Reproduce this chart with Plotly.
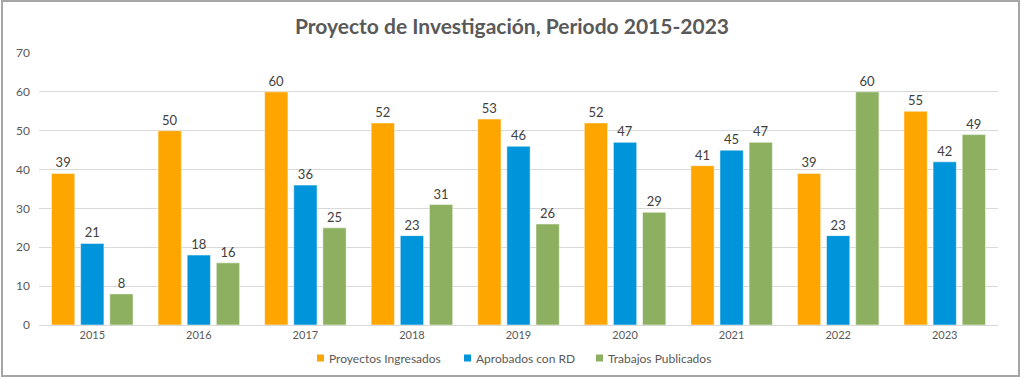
import plotly.graph_objects as go

years = ["2015", "2016", "2017", "2018", "2019", "2020", "2021", "2022", "2023"]
proyectos = [39, 50, 60, 52, 53, 52, 41, 39, 55]
aprobados = [21, 18, 36, 23, 46, 47, 45, 23, 42]
trabajos = [8, 16, 25, 31, 26, 29, 47, 60, 49]

series_names = ["Proyectos Ingresados", "Aprobados con RD", "Trabajos Publicados"]
series_values = [proyectos, aprobados, trabajos]
series_colors = ["#FFA500", "#0095DA", "#8CB05F"]

FONT = "Lato, 'Open Sans', sans-serif"
fig = go.Figure()
for name, vals, col in zip(series_names, series_values, series_colors):
    fig.add_trace(go.Bar(
        x=years, y=vals, name=name,
        marker=dict(color=col, line=dict(color="white", width=0.5)),
        text=vals, textposition="outside", cliponaxis=False,
        textfont=dict(size=13, color="#404040", family=FONT),
    ))

W, H = 1024, 379
L, R, T, B = 39, 26, 53, 54
pw, ph = W - L - R, H - T - B


def px_x(p):
    return (p - L) / pw


def px_y(p):
    return (T + ph - p) / ph


shapes = [dict(type="rect", xref="paper", yref="paper",
               x0=px_x(2), x1=px_x(1019), y0=px_y(376), y1=px_y(1),
               line=dict(color="#A6A6A6", width=2), fillcolor="rgba(0,0,0,0)",
               layer="below")]
annotations = []
legend_sq_x = [317, 464, 596]
legend_y = 358
for name, col, sx in zip(series_names, series_colors, legend_sq_x):
    shapes.append(dict(type="rect", xref="paper", yref="paper",
                       x0=px_x(sx), x1=px_x(sx + 7), y0=px_y(legend_y + 3.5), y1=px_y(legend_y - 3.5),
                       fillcolor=col, line=dict(width=0)))
    annotations.append(dict(xref="paper", yref="paper", x=px_x(sx + 10), y=px_y(legend_y),
                            text=name, showarrow=False, xanchor="left", yanchor="middle",
                            font=dict(size=12, color="#595959", family=FONT)))

fig.update_layout(
    width=W, height=H,
    margin=dict(l=L, r=R, t=T, b=B, autoexpand=False),
    paper_bgcolor="white", plot_bgcolor="white",
    barmode="group", bargap=0.18, bargroupgap=0.2,
    showlegend=False,
    title=dict(text="<b>Proyecto de Investigación, Periodo 2015-2023</b>",
               x=0.5, xanchor="center", y=1 - 27 / H, yanchor="middle",
               font=dict(size=21, color="#595959", family=FONT)),
    font=dict(family=FONT, color="#595959"),
    xaxis=dict(showgrid=False, showline=True, linecolor="#D9D9D9", linewidth=1,
               tickfont=dict(size=11, color="#595959"), ticks="", automargin=False),
    yaxis=dict(range=[0, 70], dtick=10, showgrid=True, gridcolor="#D9D9D9",
               gridwidth=1, zeroline=False, showline=False, automargin=False,
               tickfont=dict(size=12, color="#595959"), ticks="", ticklabelstandoff=8),
    shapes=shapes,
    annotations=annotations,
)

fig.write_html("out.html", config={"displayModeBar": False},
               post_script="document.body.style.margin='0';document.body.style.overflow='hidden';")
